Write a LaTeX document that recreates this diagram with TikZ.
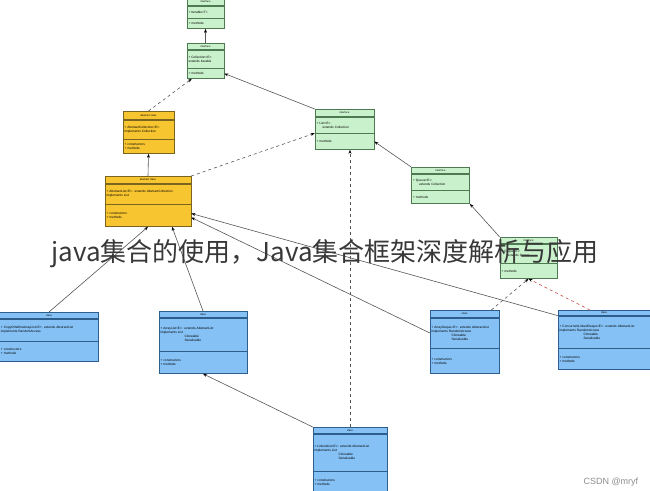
\documentclass[tikz,border=0pt]{standalone}
\usepackage{fontspec}
\setmainfont{Liberation Sans}
\newfontfamily\cjk{Noto Sans CJK SC}
\usetikzlibrary{arrows.meta}
\usetikzlibrary{positioning}

\definecolor{ifill}{HTML}{C9F2CC}
\definecolor{iline}{HTML}{4D7A50}
\definecolor{afill}{HTML}{F7C530}
\definecolor{aline}{HTML}{7A6420}
\definecolor{cfill}{HTML}{85C1F5}
\definecolor{cline}{HTML}{2E5E8C}
\definecolor{lnc}{HTML}{555555}
\definecolor{rdash}{HTML}{C0504D}

\tikzset{
	hd/.style={draw,line width=0.6pt,inner xsep=1.5pt,inner ysep=0.5pt,align=center,anchor=north,
		font=\fontsize{2.6}{3}\selectfont},
	fld/.style={draw,line width=0.6pt,inner xsep=1.5pt,inner ysep=1.5pt,align=left,
		font=\fontsize{3.2}{4}\selectfont},
	ihd/.style={hd,fill=ifill,draw=iline},
	ifld/.style={fld,fill=ifill,draw=iline},
	ahd/.style={hd,fill=afill,draw=aline},
	afld/.style={fld,fill=afill,draw=aline},
	chd/.style={hd,fill=cfill,draw=cline},
	cfld/.style={fld,fill=cfill,draw=cline}
}

\begin{document}
\begin{tikzpicture}[x=1pt,y=-1pt]
		\useasboundingbox (0,0) rectangle (650,490);

		% interfaces
		\node[ihd,text width=34pt,minimum height=7pt] (iter) at (205.5,-2) {interface};
		\node[ifld,text width=34pt,minimum height=12pt,below=0pt of iter,anchor=north] (iter-a) {+ Iterable<T>};
		\node[ifld,text width=34pt,minimum height=10pt,below=0pt of iter-a] (iter-m) {+ methods};

		\node[ihd,text width=34pt,minimum height=6pt] (coll) at (205.5,43) {interface};
		\node[ifld,text width=34pt,minimum height=18pt,below=0pt of coll] (coll-a) {+ Collection<E>:\\ extends Iterable};
		\node[ifld,text width=34pt,minimum height=10pt,below=0pt of coll-a] (coll-m) {+ methods};

		\node[ihd,text width=56pt,minimum height=7pt] (list) at (344.5,109) {interface};
		\node[ifld,text width=56pt,minimum height=16pt,below=0pt of list] (list-a) {+ List<E>:\\ \hspace*{6pt}extends Collection};
		\node[ifld,text width=56pt,minimum height=16pt,below=0pt of list-a] (list-m) {+ methods};

		\node[ihd,text width=55pt,minimum height=6pt] (queue) at (440.5,167) {interface};
		\node[ifld,text width=55pt,minimum height=16pt,below=0pt of queue] (queue-a) {+ Queue<E>:\\ \hspace*{6pt}extends Collection};
		\node[ifld,text width=55pt,minimum height=13pt,below=0pt of queue-a] (queue-m) {+ methods};

		\node[ihd,text width=54pt,minimum height=6pt] (deque) at (528.5,237) {interface};
		\node[ifld,text width=54pt,minimum height=19pt,below=0pt of deque] (deque-a) {+ Deque<E>:\\ \hspace*{6pt}extends Queue};
		\node[ifld,text width=54pt,minimum height=15pt,below=0pt of deque-a] (deque-m) {+ methods};

		% abstract classes
		\node[ahd,text width=48pt,minimum height=8pt] (abscoll) at (148.5,111) {abstract class};
		\node[afld,text width=48pt,minimum height=19pt,below=0pt of abscoll] (abscoll-a) {+ AbstractCollection<E>:\\ implements Collection};
		\node[afld,text width=48pt,minimum height=14pt,below=0pt of abscoll-a] (abscoll-m) {+ constructors\\ + methods};

		\node[ahd,text width=83pt,minimum height=7pt] (abslist) at (148,176) {abstract class};
		\node[afld,text width=83pt,minimum height=20pt,below=0pt of abslist] (abslist-a) {+ AbstractList<E>: extends AbstractCollection\\ implements List};
		\node[afld,text width=83pt,minimum height=22pt,below=0pt of abslist-a] (abslist-m) {+ constructors\\ + methods};

		% classes
		\node[chd,text width=96pt,minimum height=6pt] (cow) at (49,312) {class};
		\node[cfld,text width=96pt,minimum height=22pt,below=0pt of cow] (cow-a) {+ CopyOnWriteArrayList<E>: extends AbstractList\\ implements RandomAccess};
		\node[cfld,text width=96pt,minimum height=20pt,below=0pt of cow-a] (cow-m) {+ constructors\\ + methods};

		\node[chd,text width=85pt,minimum height=6pt] (arrl) at (203,311) {class};
		\node[cfld,text width=85pt,minimum height=33pt,below=0pt of arrl] (arrl-a) {+ ArrayList<E>: extends AbstractList\\ implements List\\ \hspace*{24pt}Cloneable\\ \hspace*{24pt}Serializable};
		\node[cfld,text width=85pt,minimum height=22pt,below=0pt of arrl-a] (arrl-m) {+ constructors\\ + methods};

		\node[chd,text width=66pt,minimum height=7pt] (adq) at (464.5,310) {class};
		\node[cfld,text width=66pt,minimum height=30pt,below=0pt of adq] (adq-a) {+ ArrayDeque<E>: extends AbstractList\\ implements RandomAccess\\ \hspace*{20pt}Cloneable\\ \hspace*{20pt}Serializable};
		\node[cfld,text width=66pt,minimum height=25pt,below=0pt of adq-a] (adq-m) {+ constructors\\ + methods};

		\node[chd,text width=89pt,minimum height=5pt] (cld) at (604,310) {class};
		\node[cfld,text width=89pt,minimum height=32pt,below=0pt of cld] (cld-a) {+ ConcurrentLinkedDeque<E>: extends AbstractList\\ implements RandomAccess\\ \hspace*{24pt}Cloneable\\ \hspace*{24pt}Serializable};
		\node[cfld,text width=89pt,minimum height=21pt,below=0pt of cld-a] (cld-m) {+ constructors\\ + methods};

		\node[chd,text width=71pt,minimum height=6pt] (linked) at (350,427) {class};
		\node[cfld,text width=71pt,minimum height=37pt,below=0pt of linked] (linked-a) {+ LinkedList<E>: extends AbstractList\\ implements List\\ \hspace*{24pt}Cloneable\\ \hspace*{24pt}Serializable};
		\node[cfld,text width=71pt,minimum height=22pt,below=0pt of linked-a] (linked-m) {+ constructors\\ + methods};

		\begin{scope}[>={Stealth[black,length=4pt,width=3pt]},line width=0.6pt,draw=lnc]
			\path (coll.north) edge[->] (iter-m.south);
			\path (abscoll.north) edge[->,dashed] ([xshift=5pt]coll-m.south west);
			\path (list.north west) edge[->] (coll-m.east);
			\path (abslist.north) edge[->] (abscoll-m.south);
			\path (abslist.north east) edge[->,dashed] (list-a.south west);
			\path (queue.north west) edge[->] (list-m.east);
			\path (deque.north west) edge[->] (queue-m.south east);
			\path (linked.north) edge[->,dashed] (linked.north |- list-m.south);

			\path (cow.north) edge[->] (abslist-m.south);
			\path (arrl.north) edge[->] ([xshift=24pt]abslist-m.south);
			\path (adq-a.west) edge[->] ([yshift=-2pt]abslist-m.east);
			\path (cld-a.north west) edge[->] ([yshift=2pt]abslist-m.east);
			\path (linked.north west) edge[->] (arrl-m.south);

			\path ([xshift=-8pt]adq.north east) edge[->,dashed] (deque-m.south);
			\path ([xshift=-14pt]cld.north) edge[->,dashed,draw=rdash] (deque-m.south);
		\end{scope}

		% title and mark
		\node[font=\cjk\fontsize{26}{30}\selectfont,text=black!78] (title) at (325,254) {java集合的使用，Java集合框架深度解析与应用};
		\node[font=\fontsize{9}{10}\selectfont,text=black!45,anchor=west] (mark) at (580,482) {CSDN @mryf};
	\end{tikzpicture}
\end{document}
